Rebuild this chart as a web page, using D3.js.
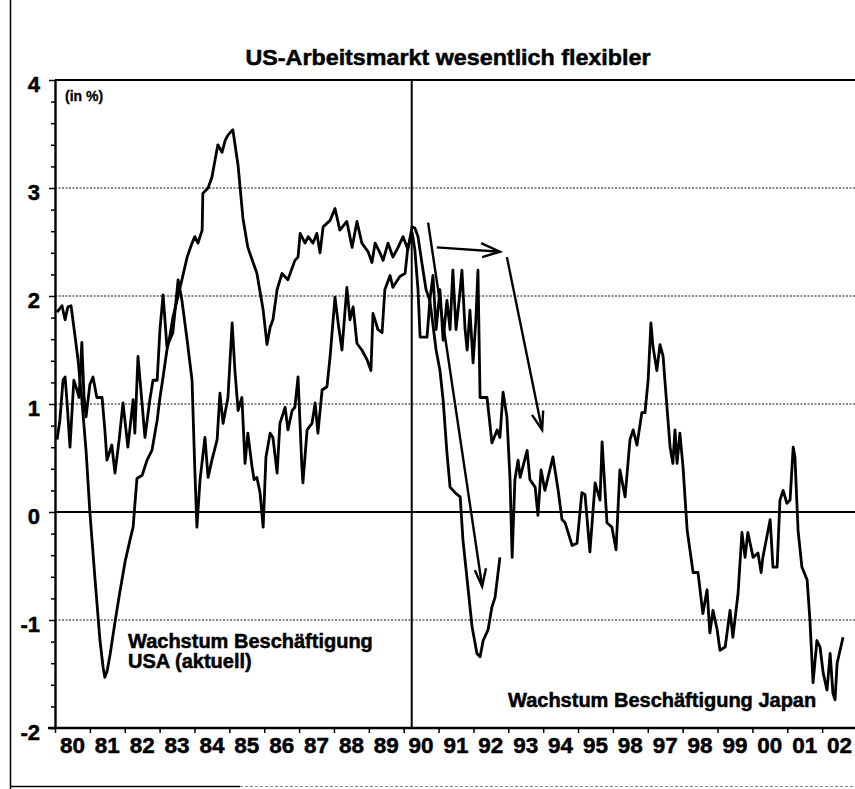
<!DOCTYPE html>
<html><head><meta charset="utf-8">
<script src="https://cdn.jsdelivr.net/npm/d3@7"></script>
<style>html,body{margin:0;padding:0;background:#fff;} svg{display:block;}</style>
</head><body><svg id="chart" width="855" height="789"></svg>
<script>
const titleText = "US-Arbeitsmarkt wesentlich flexibler";
const unitLabel = "(in %)";
const usLabel = ["Wachstum Beschäftigung", "USA (aktuell)"];
const japanLabel = "Wachstum Beschäftigung Japan";
const yearLabels = ["80","81","82","83","84","85","86","87","88","89","90","91","92","93","94","95","98","97","98","99","00","01","02"];
const yearStarts = [1980,1981,1982,1983,1984,1985,1986,1987,1988,1989,1990,1991,1992,1993,1994,1995,1996,1997,1998,1999,2000,2001,2002];
const yTickValues = [-2,-1,0,1,2,3,4];
const gridValues = [3,2,1,-1];
const markerYear = 1990.23;

const usYears = [1980.06,1980.20,1980.29,1980.37,1980.46,1980.57,1980.66,1980.77,1980.89,1981.00,1981.15,1981.29,1981.38,1981.43,1981.49,1981.58,1981.72,1981.86,1982.01,1982.15,1982.24,1982.35,1982.50,1982.64,1982.78,1982.93,1983.01,1983.10,1983.21,1983.30,1983.38,1983.50,1983.64,1983.79,1983.93,1984.01,1984.10,1984.22,1984.24,1984.39,1984.50,1984.59,1984.67,1984.79,1984.88,1984.96,1985.10,1985.25,1985.39,1985.53,1985.79,1985.97,1986.08,1986.17,1986.25,1986.37,1986.51,1986.68,1986.88,1986.97,1987.03,1987.17,1987.26,1987.40,1987.51,1987.60,1987.69,1987.89,1988.03,1988.17,1988.37,1988.52,1988.66,1988.80,1988.98,1989.09,1989.18,1989.32,1989.41,1989.55,1989.69,1989.84,1989.98,1990.12,1990.24,1990.32,1990.41,1990.52,1990.64,1990.75,1990.93,1991.04,1991.13,1991.24,1991.33,1991.47,1991.62,1991.70,1991.84,1991.96,1992.10,1992.19,1992.28,1992.42,1992.53,1992.62,1992.76];
const usValues = [1.85,1.91,1.78,1.90,1.91,1.64,1.41,1.04,0.57,0.00,-0.63,-1.19,-1.44,-1.53,-1.48,-1.32,-1.02,-0.74,-0.46,-0.26,-0.14,0.31,0.34,0.48,0.57,0.85,1.06,1.25,1.50,1.64,1.80,1.96,2.15,2.36,2.49,2.55,2.49,2.61,2.95,3.00,3.10,3.26,3.40,3.33,3.44,3.49,3.54,3.21,2.72,2.45,2.21,1.87,1.55,1.71,1.78,2.06,2.21,2.15,2.33,2.36,2.58,2.49,2.55,2.49,2.58,2.40,2.64,2.70,2.81,2.61,2.69,2.45,2.69,2.49,2.41,2.31,2.49,2.40,2.33,2.49,2.36,2.45,2.55,2.43,2.64,2.63,2.55,2.31,2.06,1.96,1.50,1.31,1.04,0.55,0.23,0.18,0.14,-0.26,-0.69,-1.06,-1.31,-1.34,-1.19,-1.09,-0.88,-0.79,-0.42];

const japanYears = [1980.06,1980.14,1980.23,1980.29,1980.34,1980.43,1980.49,1980.54,1980.63,1980.69,1980.77,1980.83,1980.89,1981.00,1981.09,1981.20,1981.35,1981.43,1981.49,1981.63,1981.72,1981.84,1981.95,1982.09,1982.24,1982.29,1982.38,1982.58,1982.72,1982.81,1982.93,1983.01,1983.10,1983.21,1983.38,1983.53,1983.64,1983.79,1983.93,1984.01,1984.07,1984.16,1984.30,1984.39,1984.50,1984.65,1984.73,1984.82,1984.96,1985.08,1985.16,1985.25,1985.36,1985.45,1985.53,1985.65,1985.71,1985.79,1985.88,1985.97,1986.05,1986.17,1986.25,1986.37,1986.45,1986.60,1986.68,1986.80,1986.88,1986.97,1987.08,1987.11,1987.23,1987.37,1987.46,1987.54,1987.66,1987.80,1987.89,1988.03,1988.12,1988.23,1988.37,1988.46,1988.55,1988.66,1988.80,1988.95,1989.06,1989.12,1989.26,1989.38,1989.46,1989.61,1989.69,1989.89,1990.04,1990.12,1990.24,1990.32,1990.41,1990.47,1990.67,1990.75,1990.84,1990.93,1991.04,1991.13,1991.24,1991.33,1991.41,1991.50,1991.59,1991.67,1991.76,1991.82,1991.90,1991.99,1992.07,1992.13,1992.19,1992.39,1992.53,1992.68,1992.76,1992.85,1992.96,1993.05,1993.11,1993.19,1993.28,1993.34,1993.54,1993.62,1993.77,1993.85,1993.94,1994.05,1994.28,1994.43,1994.54,1994.63,1994.83,1994.97,1995.11,1995.20,1995.34,1995.49,1995.63,1995.69,1995.83,1995.97,1996.09,1996.20,1996.35,1996.49,1996.58,1996.69,1996.83,1996.92,1997.01,1997.09,1997.15,1997.26,1997.35,1997.44,1997.49,1997.64,1997.72,1997.78,1997.84,1997.92,1998.01,1998.13,1998.30,1998.44,1998.58,1998.70,1998.78,1998.87,1998.99,1999.07,1999.22,1999.36,1999.44,1999.59,1999.70,1999.79,1999.87,2000.02,2000.16,2000.25,2000.30,2000.51,2000.59,2000.71,2000.79,2000.88,2000.99,2001.08,2001.17,2001.22,2001.31,2001.42,2001.57,2001.65,2001.74,2001.85,2001.94,2002.03,2002.14,2002.23,2002.31,2002.37,2002.43,2002.60];
const japanValues = [0.67,0.85,1.22,1.25,1.04,0.60,0.94,1.22,1.13,1.06,1.57,1.08,0.88,1.18,1.25,1.06,1.06,0.76,0.48,0.62,0.36,0.67,1.01,0.60,1.04,0.73,1.44,0.69,1.04,1.22,1.22,1.69,2.01,1.53,1.66,2.15,1.96,1.59,1.22,0.39,-0.14,0.30,0.69,0.32,0.48,0.67,1.10,0.82,1.06,1.75,1.31,0.94,1.06,0.45,0.73,0.42,0.30,0.32,0.18,-0.14,0.51,0.73,0.69,0.36,0.82,0.97,0.76,0.94,0.97,1.25,0.42,0.27,0.76,0.82,1.01,0.73,1.13,1.16,1.44,1.99,1.75,1.50,2.08,1.78,1.90,1.56,1.50,1.41,1.31,1.84,1.69,1.66,2.06,2.19,2.08,2.18,2.21,2.45,2.59,2.43,2.06,1.62,1.62,1.96,2.19,1.69,2.06,1.59,1.96,1.69,2.24,1.69,1.96,2.24,1.69,1.50,1.87,1.38,1.78,2.24,1.06,1.06,0.64,0.76,0.69,1.11,0.88,0.30,-0.42,0.30,0.48,0.32,0.57,0.30,0.23,-0.03,0.39,0.20,0.51,0.20,-0.07,-0.10,-0.31,-0.29,0.18,0.16,-0.37,0.27,0.11,0.65,-0.10,-0.14,-0.35,0.39,0.14,0.67,0.76,0.62,0.92,0.92,1.22,1.75,1.53,1.31,1.55,1.44,1.22,0.60,0.45,0.76,0.45,0.73,0.42,-0.17,-0.56,-0.56,-0.94,-0.72,-1.12,-0.91,-1.09,-1.28,-1.25,-0.91,-1.16,-0.75,-0.19,-0.42,-0.19,-0.42,-0.38,-0.56,-0.42,-0.07,-0.51,-0.51,0.11,0.20,0.08,0.11,0.60,0.51,-0.17,-0.51,-0.63,-1.00,-1.58,-1.19,-1.25,-1.49,-1.65,-1.31,-1.68,-1.74,-1.40,-1.16];

// hand-drawn arrows (year, value)
const arrowShafts = [
  [[1990.70, 2.68], [1992.25, -0.69]],
  [[1990.95, 2.45], [1992.76, 2.41]],
  [[1992.96, 2.36], [1993.97, 0.76]]
];
const arrowHeads = [
  [[1992.04, -0.54], [1992.25, -0.69], [1992.36, -0.52]],
  [[1992.22, 2.49], [1992.76, 2.41], [1992.25, 2.36]],
  [[1993.68, 0.90], [1993.97, 0.76], [1994.00, 0.94]]
];

const FONT = "'Liberation Sans', Arial, Helvetica, sans-serif";
const svg = d3.select("#chart");
const x = d3.scaleLinear().domain([1980, 2003]).range([55, 857]);
const y = d3.scaleLinear().domain([-2, 4]).range([728, 80]);
const left = 55, right = 855;

function heavy(sel, size) {
  return sel.attr("font-family",FONT).attr("font-weight","bold").attr("font-size",size)
    .attr("fill","#000").attr("stroke","#000").attr("stroke-width",0.5);
}

// outer frame
svg.append("line").attr("x1",10.5).attr("x2",10.5).attr("y1",0).attr("y2",789).attr("stroke","#000").attr("stroke-width",1.5);
svg.append("line").attr("x1",10).attr("x2",240).attr("y1",786.5).attr("y2",786.5).attr("stroke","#000").attr("stroke-width",1.5);
svg.append("line").attr("x1",240).attr("x2",855).attr("y1",786.5).attr("y2",786.5).attr("stroke","#888").attr("stroke-width",1).attr("stroke-dasharray","3,2");

// title
heavy(svg.append("text").attr("x",448).attr("y",65).attr("text-anchor","middle"), 22)
  .attr("textLength",405).attr("lengthAdjust","spacingAndGlyphs").text(titleText);

// gridlines
svg.selectAll(".grid").data(gridValues).join("line").attr("class","grid")
  .attr("x1",left).attr("x2",right).attr("y1",d=>y(d)).attr("y2",d=>y(d))
  .attr("stroke","#111").attr("stroke-width",1.1).attr("stroke-dasharray","2,1.5");
svg.append("line").attr("x1",left).attr("x2",right).attr("y1",y(0)).attr("y2",y(0))
  .attr("stroke","#000").attr("stroke-width",2);
// top border
svg.append("line").attr("x1",left).attr("x2",right).attr("y1",y(4)).attr("y2",y(4))
  .attr("stroke","#000").attr("stroke-width",2);

// y axis
const yAxis = d3.axisLeft(y).tickValues(d3.range(-2, 4.001, 0.2)).tickSize(0).tickFormat("");
const gy = svg.append("g").attr("transform",`translate(${left},0)`).call(yAxis);
gy.select(".domain").attr("stroke","#000").attr("stroke-width",2.4);
gy.selectAll(".tick line").remove();
gy.selectAll(".tick").append("line").attr("x1",d=>Math.abs(d-Math.round(d))<1e-6?-6:-4).attr("x2",0)
  .attr("stroke","#000").attr("stroke-width",1.5);
heavy(svg.selectAll(".ylab").data(yTickValues).join("text").attr("class","ylab")
  .attr("x",40).attr("y",d=>y(d)+12).attr("text-anchor","end"), 22)
  .text(d=>d);

// x axis
const gx = svg.append("g").attr("transform",`translate(0,${y(-2)})`)
  .call(d3.axisBottom(x).tickValues(yearStarts).tickSize(5).tickFormat(""));
gx.select(".domain").attr("stroke","#000").attr("stroke-width",2.4).attr("d",`M${left-7},0H${right}`);
gx.selectAll(".tick line").attr("stroke","#000").attr("stroke-width",1.5);
heavy(svg.selectAll(".xlab").data(yearLabels).join("text").attr("class","xlab")
  .attr("x",(d,i)=>x(yearStarts[i]+0.5)).attr("y",753).attr("text-anchor","middle"), 22)
  .attr("textLength",25).attr("lengthAdjust","spacingAndGlyphs")
  .text(d=>d);

// vertical marker
svg.append("line").attr("x1",x(markerYear)).attr("x2",x(markerYear)).attr("y1",y(4)).attr("y2",y(-2))
  .attr("stroke","#000").attr("stroke-width",2);

// unit label
heavy(svg.append("text").attr("x",65).attr("y",101), 14).attr("stroke-width",0.3).text(unitLabel);

// series
const line = d3.line().x(d=>x(d[0])).y(d=>y(d[1]));
const usData = usYears.map((t,i)=>[t,usValues[i]]);
const jpData = japanYears.map((t,i)=>[t,japanValues[i]]);
svg.append("path").datum(jpData).attr("d",line).attr("fill","none").attr("stroke","#000")
  .attr("stroke-width",2.8).attr("stroke-linejoin","round");
svg.append("path").datum(usData).attr("d",line).attr("fill","none").attr("stroke","#000")
  .attr("stroke-width",2.8).attr("stroke-linejoin","round");

// arrows
svg.selectAll(".shaft").data(arrowShafts).join("path").attr("class","shaft")
  .attr("d",line).attr("fill","none").attr("stroke","#000").attr("stroke-width",2.4);
svg.selectAll(".head").data(arrowHeads).join("path").attr("class","head")
  .attr("d",line).attr("fill","none").attr("stroke","#000").attr("stroke-width",2.4).attr("stroke-linejoin","miter");

// series labels
heavy(svg.append("text").attr("x",128).attr("y",648), 20).text(usLabel[0]);
heavy(svg.append("text").attr("x",128).attr("y",668), 20).text(usLabel[1]);
heavy(svg.append("text").attr("x",508).attr("y",707), 20).text(japanLabel);
</script></body></html>
